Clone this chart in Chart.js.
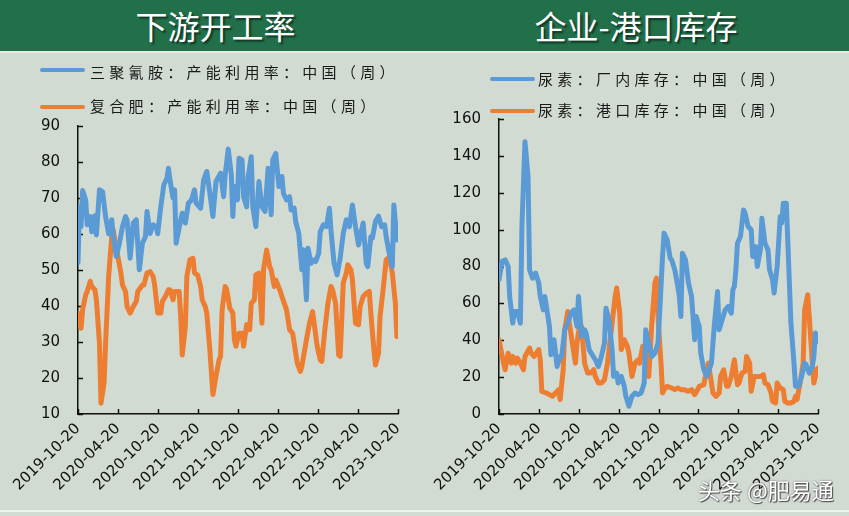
<!DOCTYPE html>
<html><head><meta charset="utf-8">
<script src="https://cdn.jsdelivr.net/npm/chart.js@4/dist/chart.umd.min.js"></script>
<style>
html,body{margin:0;padding:0;}
body{width:849px;height:516px;position:relative;overflow:hidden;background:#d2dbd2;font-family:"Noto Sans CJK SC",sans-serif;}
#hdr{position:absolute;left:0;top:0;width:849px;height:51px;background:#22704a;}
#hdrline{position:absolute;left:0;top:51px;width:849px;height:2px;background:#e4ebe4;}
#botline{position:absolute;left:0;top:510px;width:849px;height:2px;background:#eef2ee;}
.title{position:absolute;top:0;height:51px;line-height:51px;color:#fff;font-size:32px;text-align:center;text-shadow:2px 2px 2px rgba(0,0,0,0.55);white-space:nowrap;}
.legline{position:absolute;height:4px;border-radius:2px;}
.legtxt{position:absolute;font-size:15px;line-height:20px;letter-spacing:4.3px;color:#1a1a1a;white-space:nowrap;}
#wm{position:absolute;left:698px;top:475px;font-size:22px;line-height:28px;color:#fff;white-space:nowrap;text-shadow:0 0 2px #555,1px 1px 1px #444;}
canvas{position:absolute;}
</style>
</head><body>
<div id="hdr"></div>
<div id="hdrline"></div>
<div class="title" style="left:0;width:431px;">下游开工率</div>
<div class="title" style="left:425px;width:422px;">企业-港口库存</div>

<canvas id="c1" width="425" height="464" style="left:0;top:52px;"></canvas>
<canvas id="c2" width="424" height="464" style="left:425px;top:52px;"></canvas>

<div class="legline" style="left:40px;top:68px;width:45px;background:#5b9bd5;"></div>
<div class="legtxt" style="left:90px;top:62px;">三聚氰胺：产能利用率：中国（周）</div>
<div class="legline" style="left:40px;top:105px;width:45px;background:#ed7d31;"></div>
<div class="legtxt" style="left:90px;top:96px;">复合肥：产能利用率：中国（周）</div>

<div class="legline" style="left:490px;top:77px;width:45px;background:#5b9bd5;"></div>
<div class="legtxt" style="left:538px;top:69px;">尿素：厂内库存：中国（周）</div>
<div class="legline" style="left:490px;top:109px;width:45px;background:#ed7d31;"></div>
<div class="legtxt" style="left:538px;top:100px;">尿素：港口库存：中国（周）</div>

<div id="botline"></div>
<div id="wm">头条 @肥易通</div>

<script>
// ---- tick labels (x axis) ----
const tickLabels = ["2019-10-20","2020-04-20","2020-10-20","2021-04-20","2021-10-20","2022-04-20","2022-10-20","2023-04-20","2023-10-20"];
const leftYTicks = [10,20,30,40,50,60,70,80,90];
const rightYTicks = [0,20,40,60,80,100,120,140,160];

// ---- data: x = weeks since 2019-10-20 ----
const melamineWeeks = [0,1,2,3,5,6,8,9,11,12,14,16,18,20,22,23,25,27,29,31,32,34,36,38,40,42,44,45,47,49,51,52,54,56,58,59,60,62,63,64,67,68,70,72,74,76,77,80,82,84,86,88,90,93,95,96,98,100,101,102,104,105,107,108,110,111,113,114,116,118,120,122,124,126,127,129,131,133,134,136,138,139,141,142,144,146,147,149,150,152,153,155,157,158,160,162,164,165,167,169,171,173,175,177,179,181,183,184,186,188,189,191,192,194,196,198,200,201,203,205,206,208];
const melamineRate = [52,67.5,62,72,69.4,62.5,64.8,60.6,65,59.7,72.2,71.7,64.8,60,63.9,59,53.7,57.4,62,64.8,63.9,53.2,63,63.9,50,57.4,59.2,66.2,60.1,62.5,62,60,67.5,73.6,75.4,78.2,75,69.9,72.2,57.4,63.9,65.7,63,68.5,69.4,72.2,68.5,67.1,75,77.3,71.2,64.8,74.5,76.8,70.3,76.4,83.5,76.4,64.8,73.1,69.4,81,80.5,70.3,67.5,75.9,81.4,67.5,62,74.5,67.5,66.2,78.2,65.3,80.5,82.3,73.1,75.9,71.2,69.4,70.3,66.6,67.1,63.4,60.1,50,55.6,41.7,56,51.8,52.8,52.3,54.6,60.6,62.5,62,67.1,61,51.8,48.6,53.2,60.1,63.9,62,68,62,56.9,59.2,63,51.8,50.9,59.2,58.8,63.4,64.9,62,62.5,59.2,54.6,50.9,68,58.3];

const compoundWeeks = [0,1,2,3,5,6,8,9,11,12,14,15,17,18,20,22,23,24,26,28,29,31,32,34,36,38,39,42,43,45,47,49,50,52,54,55,57,59,60,62,63,66,67,68,70,71,73,75,76,78,80,81,83,84,86,88,90,92,93,94,96,97,99,101,102,103,105,107,108,110,112,113,115,116,118,120,121,123,125,126,128,129,132,133,136,138,140,141,143,145,146,149,151,153,154,156,158,159,161,163,165,166,168,170,171,173,175,176,178,179,181,183,184,186,188,190,191,193,194,196,197,199,201,202,204,205,207,208];
const compoundRate = [38,35.2,33.8,38.9,43,44,46.8,45.4,44.5,41.7,29.7,13,18.6,29.7,48.2,59.2,61.1,58.3,53.7,49.1,45.8,44,39.8,38,39.8,41.2,44,45.8,45.8,49.1,49.5,48.2,45.8,38,38,41.2,42.6,44.5,44.5,41.7,44,44,37,26.4,34.2,48.2,52.8,53.2,49.1,48.6,45.4,41.7,39.8,38,27.8,15.4,20.5,25,26,38.9,45.4,44.5,39.4,38,30.6,28.8,32.4,32.4,28.8,34.8,33.4,40.7,41.7,48.6,49.1,35.2,50,55.5,50.9,50,45.4,47.2,44,42.6,38.9,33.4,32.4,29.7,24.1,21.8,23.2,30.6,35.2,38.4,35.2,28.8,25,24.6,33.4,40.7,45.4,44.5,40.7,26.4,26,46.3,49.1,51.4,50,47.2,35.2,34.8,39.8,42.6,43.5,44,38,27.8,23.6,26.8,37,44.5,52.8,53.2,51.4,49.1,40.7,31.5];

const ureaPlantWeeks = [0,2,4,6,7,9,10,12,14,15,17,19,20,22,24,26,27,29,30,33,34,36,38,40,41,43,45,47,49,51,52,54,56,57,59,61,63,65,67,69,70,72,74,75,77,78,80,82,83,85,87,89,91,93,95,96,98,100,102,104,105,107,108,110,112,113,115,117,118,119,120,122,124,126,128,129,131,132,134,136,139,141,143,144,146,148,150,152,153,154,155,156,158,160,161,163,165,166,168,169,171,172,174,176,177,179,180,182,184,185,186,188,189,191,193,194,196,198,200,201,203,205,206,207,208.7];
const ureaPlantStock = [72.8,82.7,83.6,80,63.7,49.3,55.6,55.6,49.3,101.7,147.7,128.8,78.2,73.7,76.4,71,63.7,56.5,63.7,47.5,32.1,40.3,25.8,31.2,31.2,45.7,49.3,54.7,56.5,47.5,63.7,42.1,45.7,43.9,34.9,32.1,29.4,25.8,31.2,38.5,57.4,51.1,34.9,20.4,22.2,16.8,20.4,15,9.6,4.2,9.6,11.4,10.5,11.4,16.8,45.7,38.5,31.2,33,38.5,52.9,85.4,98.1,94.5,84.5,83.6,78.2,69.2,63.7,52.9,87.2,83.6,71,63.7,40.3,52.9,47.5,33,24,20.4,27.6,49.3,66.5,45.7,51.1,56.5,58.3,54.7,67.4,69.2,78.2,92.6,96.3,110.7,108.9,101.7,99.9,85.4,90.8,80,89,106.2,92.6,89,78.2,72.8,65.6,80,107.1,103.5,114.3,114.3,92.6,49.3,27.6,15,15,20.4,27.6,26.7,22.2,25.8,31.2,43.9,39.4];

const ureaPortWeeks = [0,3,4,6,8,9,11,12,14,16,17,20,21,23,26,27,28,31,33,35,37,39,40,42,43,45,46,48,50,51,53,54,56,58,60,62,63,65,67,69,71,72,74,76,77,79,80,82,84,85,87,89,91,92,94,96,97,98,100,102,103,104,106,107,108,110,113,115,117,119,121,124,126,128,130,131,134,135,137,138,140,142,144,145,147,149,150,152,154,156,157,159,161,162,164,165,167,169,171,173,174,176,178,179,181,182,184,186,187,189,191,193,194,195,197,199,200,202,203,205,206,208,208.7];
const ureaPortStock = [40.3,27.6,24,33,27.6,31.2,27.6,30.3,27.6,24,31.2,35.8,33,31.2,34.9,29.4,12.3,11.4,10.5,9.6,11.4,13.2,7.8,24,45.7,55.6,49.3,38.5,27.6,38.5,49.3,47.5,27.6,22.2,22.2,24,20.4,16.8,16.8,18.6,27.6,34.9,49.3,63.7,68.3,54.7,34.9,40.3,36.7,33,20.4,27.6,29.4,27.6,36.7,34.9,22.2,20.4,49.3,71,73.7,52.9,27.6,11.4,13.2,15,14.1,13.2,14.1,13.2,13.2,12.3,13.2,10.5,13.2,15,15.9,20.4,27.6,22.2,11.4,9.6,11.4,20.4,24,15,15,20.4,29.4,15.9,16.8,22.2,23.1,31.2,27.6,12.3,20.4,20.4,20.4,21.3,16.8,15.9,11.4,6.9,6,16.8,14.1,13.2,6.9,6,6,6.9,9.6,7.8,16.8,27.6,56.5,64.7,52.9,27.6,16.8,24,24.9];

const BLUE = '#5b9bd5', ORANGE = '#ed7d31';
const DAY = 864e5;
const tickWeeks = tickLabels.map(s => (Date.parse(s) - Date.parse(tickLabels[0])) / (7 * DAY));

const inwardTicks = {
  id: 'inwardTicks',
  beforeDatasetsDraw(chart) {
    const {ctx, chartArea: a, scales: {x, y}} = chart;
    ctx.save();
    ctx.strokeStyle = '#111';
    ctx.lineWidth = 1.5;
    ctx.beginPath();
    x.ticks.forEach(t => { const p = Math.round(x.getPixelForValue(t.value)) + 0.5; ctx.moveTo(p, a.bottom); ctx.lineTo(p, a.bottom - 5); });
    y.ticks.forEach(t => { const p = Math.round(y.getPixelForValue(t.value)) + 0.5; ctx.moveTo(a.left, p); ctx.lineTo(a.left + 5, p); });
    ctx.stroke();
    ctx.restore();
  }
};

function buildChart(id, sets, yTicks, box) {
  return new Chart(document.getElementById(id), {
    type: 'line',
    data: {
      datasets: sets.map(s => ({
        label: s.label,
        data: s.weeks.map((w, i) => ({x: w, y: s.values[i]})),
        borderColor: s.color, backgroundColor: s.color,
        borderWidth: 5, pointRadius: 0, tension: 0,
        borderJoinStyle: 'round', borderCapStyle: 'round', fill: false
      }))
    },
    options: {
      responsive: false, animation: false, events: [],
      layout: {padding: {left: 0, top: box.top, right: box.right, bottom: 0}},
      plugins: {legend: {display: false}, tooltip: {enabled: false}},
      scales: {
        x: {
          type: 'linear', min: 0, max: tickWeeks[tickWeeks.length - 1],
          afterBuildTicks: s => { s.ticks = tickWeeks.map(v => ({value: v})); },
          afterFit: s => { s.height = box.xh; },
          grid: {display: false, drawTicks: false},
          border: {display: true, color: '#111', width: 1.5},
          ticks: {autoSkip: false, minRotation: 45, maxRotation: 45, padding: box.xpad, color: '#111',
                  font: {family: 'DejaVu Sans', size: 15}, callback: (v, i) => tickLabels[i]}
        },
        y: {
          min: yTicks[0], max: yTicks[yTicks.length - 1],
          afterBuildTicks: s => { s.ticks = yTicks.map(v => ({value: v})); },
          afterFit: s => { s.width = box.yw; },
          grid: {display: false, drawTicks: false},
          border: {display: true, color: '#111', width: 1.5},
          ticks: {padding: box.ypad, color: '#111', font: {family: 'DejaVu Sans', size: 15}}
        }
      }
    },
    plugins: [inwardTicks]
  });
}

buildChart('c1', [
  {label: '三聚氰胺：产能利用率：中国（周）', weeks: melamineWeeks, values: melamineRate, color: BLUE},
  {label: '复合肥：产能利用率：中国（周）', weeks: compoundWeeks, values: compoundRate, color: ORANGE}
], leftYTicks, {top: 73.7, right: 27, xh: 102, yw: 78, xpad: 6, ypad: 18});

buildChart('c2', [
  {label: '尿素：厂内库存：中国（周）', weeks: ureaPlantWeeks, values: ureaPlantStock, color: BLUE},
  {label: '尿素：港口库存：中国（周）', weeks: ureaPortWeeks, values: ureaPortStock, color: ORANGE}
], rightYTicks, {top: 67, right: 31, xh: 102, yw: 74, xpad: 6, ypad: 18});
</script>
</body></html>
